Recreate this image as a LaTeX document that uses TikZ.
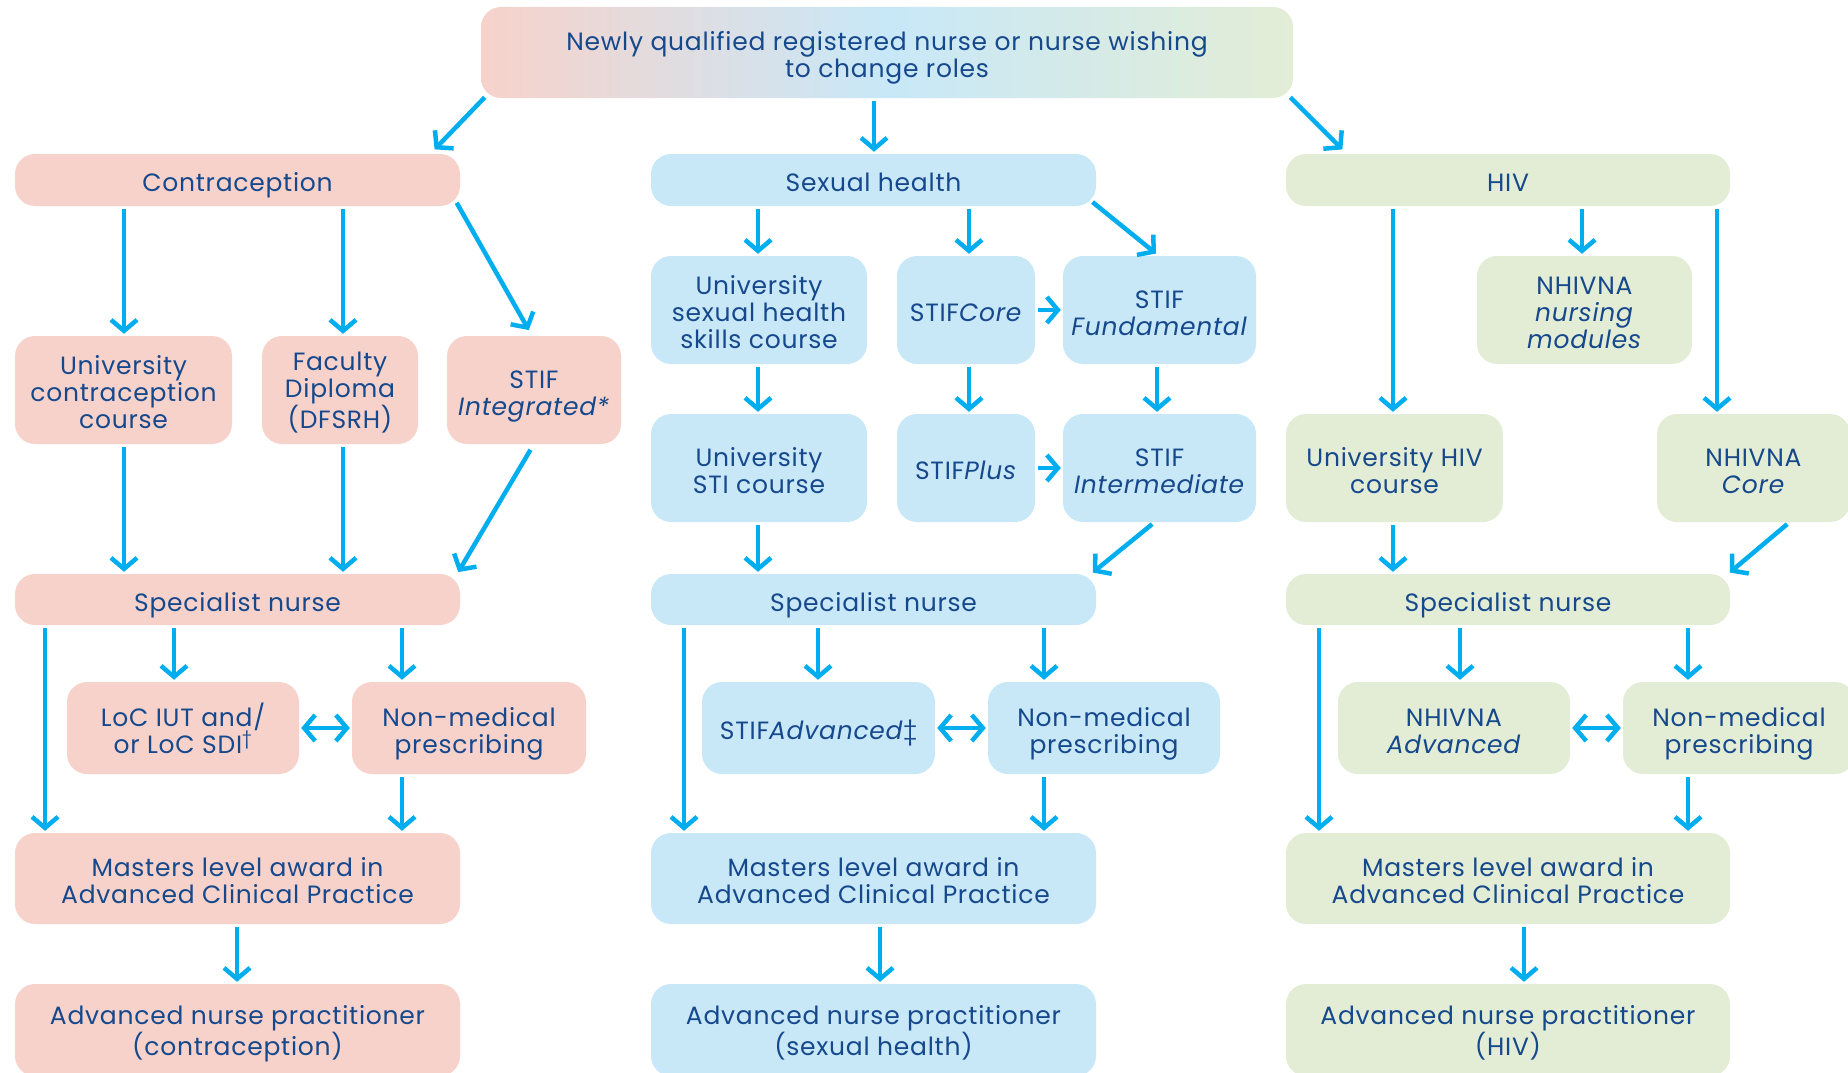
\documentclass[tikz,border=0pt]{standalone}
\usepackage{fontspec}
\setmainfont{Poppins}[LetterSpace=3]
\usetikzlibrary{arrows.meta}

\definecolor{navy}{RGB}{22,72,140}
\definecolor{arrowblue}{RGB}{0,174,239}
\definecolor{conpink}{RGB}{247,210,203}
\definecolor{shblue}{RGB}{200,232,248}
\definecolor{hivgreen}{RGB}{227,237,214}

\tikzset{
  box/.style={rounded corners=20pt, text=navy, align=center, inner sep=0pt,
    font=\fontsize{25}{27}\selectfont, text height=32pt, text depth=8.5pt},
  two lines/.style={text height=59pt},
  three lines/.style={text height=86pt},
  con/.style={box, fill=conpink},
  sh/.style={box, fill=shblue},
  hiv/.style={box, fill=hivgreen},
  arr/.style={draw=arrowblue, line width=4.5pt, -{Straight Barb[length=11pt, width=26pt]},
    shorten <=3pt, shorten >=2pt},
  biarr/.style={draw=arrowblue, line width=4.5pt,
    {Straight Barb[length=11pt, width=26pt]}-{Straight Barb[length=11pt, width=26pt]},
    shorten <=2pt, shorten >=2pt},
}

\begin{document}
\begin{tikzpicture}[x=1pt, y=-1pt]

	\useasboundingbox (0,0) rectangle (1848,1073);
	\clip (0,0) rectangle (1848,1073);

	% Starting point
	\node[box, two lines, left color=conpink, right color=hivgreen, middle color=shblue,
		minimum width=812pt, minimum height=91pt] (top) at (887,52.5)
		{Newly qualified registered nurse or nurse wishing\\to change roles};

	% Contraception column
	\node[con, minimum width=445pt, minimum height=52pt] (con) at (237.5,180) {Contraception};
	\node[con, three lines, minimum width=217pt, minimum height=108pt] (ucc) at (123.5,390) {University\\contraception\\course};
	\node[con, three lines, minimum width=156pt, minimum height=108pt] (fd) at (340,390) {Faculty\\Diploma\\(DFSRH)};
	\node[con, two lines, minimum width=174pt, minimum height=108pt] (stifi) at (534,390) {STIF\\\textit{Integrated*}};
	\node[con, minimum width=445pt, minimum height=51pt] (snc) at (237.5,599.5) {Specialist nurse};
	\node[con, two lines, minimum width=232pt, minimum height=92pt] (loc) at (183,728) {LoC IUT and/\\or LoC SDI\textsuperscript{†}};
	\node[con, two lines, minimum width=234pt, minimum height=92pt] (nmpc) at (469,728) {Non-medical\\prescribing};
	\node[con, two lines, minimum width=445pt, minimum height=91pt] (mc) at (237.5,878.5) {Masters level award in\\Advanced Clinical Practice};
	\node[con, two lines, minimum width=445pt, minimum height=92pt] (anpc) at (237.5,1030) {Advanced nurse practitioner\\(contraception)};

	% Sexual health column
	\node[sh, minimum width=445pt, minimum height=52pt] (sh) at (873.5,180) {Sexual health};
	\node[sh, three lines, minimum width=216pt, minimum height=108pt] (ush) at (759,310) {University\\sexual health\\skills course};
	\node[sh, minimum width=138pt, minimum height=108pt] (core) at (966,310) {STIF\textit{Core}};
	\node[sh, two lines, minimum width=193pt, minimum height=108pt] (fund) at (1159.5,310) {STIF\\\textit{Fundamental}};
	\node[sh, two lines, minimum width=216pt, minimum height=108pt] (usti) at (759,468) {University\\STI course};
	\node[sh, minimum width=138pt, minimum height=108pt] (plus) at (966,468) {STIF\textit{Plus}};
	\node[sh, two lines, minimum width=193pt, minimum height=108pt] (inter) at (1159.5,468) {STIF\\\textit{Intermediate}};
	\node[sh, minimum width=445pt, minimum height=51pt] (sns) at (873.5,599.5) {Specialist nurse};
	\node[sh, minimum width=233pt, minimum height=92pt] (adv) at (818.5,728) {STIF\textit{Advanced}‡};
	\node[sh, two lines, minimum width=232pt, minimum height=92pt] (nmps) at (1104,728) {Non-medical\\prescribing};
	\node[sh, two lines, minimum width=445pt, minimum height=91pt] (ms) at (873.5,878.5) {Masters level award in\\Advanced Clinical Practice};
	\node[sh, two lines, minimum width=445pt, minimum height=92pt] (anps) at (873.5,1030) {Advanced nurse practitioner\\(sexual health)};

	% HIV column
	\node[hiv, minimum width=444pt, minimum height=52pt] (hiv) at (1508,180) {HIV};
	\node[hiv, three lines, minimum width=215pt, minimum height=108pt] (nnm) at (1584.5,310) {NHIVNA\\\textit{nursing}\\\textit{modules}};
	\node[hiv, two lines, minimum width=217pt, minimum height=108pt] (uhiv) at (1394.5,468) {University HIV\\course};
	\node[hiv, two lines, minimum width=193pt, minimum height=108pt] (ncore) at (1753.5,468) {NHIVNA\\\textit{Core}};
	\node[hiv, minimum width=444pt, minimum height=51pt] (snh) at (1508,599.5) {Specialist nurse};
	\node[hiv, two lines, minimum width=232pt, minimum height=92pt] (nadv) at (1454,728) {NHIVNA\\\textit{Advanced}};
	\node[hiv, two lines, minimum width=232pt, minimum height=92pt] (nmph) at (1739,728) {Non-medical\\prescribing};
	\node[hiv, two lines, minimum width=444pt, minimum height=91pt] (mh) at (1508,878.5) {Masters level award in\\Advanced Clinical Practice};
	\node[hiv, two lines, minimum width=444pt, minimum height=92pt] (anph) at (1508,1030) {Advanced nurse practitioner\\(HIV)};

	% Straight down arrows, at the x where each one runs
	\foreach \from/\to/\x in {
			con/ucc/124, con/fd/343, ucc/snc/124, fd/snc/343,
			snc/loc/174, snc/nmpc/402, snc/mc/45, nmpc/mc/402, mc/anpc/237,
			top/sh/874, sh/ush/758, sh/core/969, ush/usti/758, core/plus/969,
			fund/inter/1157, usti/sns/758, sns/adv/818, sns/nmps/1044,
			sns/ms/684, nmps/ms/1044, ms/anps/880,
			hiv/uhiv/1393, hiv/nnm/1582, hiv/ncore/1717, uhiv/snh/1393,
			snh/nadv/1460, snh/nmph/1688, snh/mh/1319, nmph/mh/1688, mh/anph/1524
		} {
			\draw[arr] (\from.south -| \x,0) -- (\to.north -| \x,0);
		}

	% Sideways arrows
	\draw[arr] (core.east) -- (fund.west);
	\draw[arr] (plus.east) -- (inter.west);
	\foreach \a/\b in {loc/nmpc, adv/nmps, nadv/nmph}
		\draw[biarr] (\a.east) -- (\b.west);

	% Slanted arrows
	\draw[arr] ([xshift=6pt,yshift=3pt]top.south west) -- ([xshift=-27pt,yshift=3pt]con.north east);
	\draw[arr] ([xshift=-5pt,yshift=3pt]top.south east) -- ([xshift=58pt,yshift=3pt]hiv.north west);
	\draw[arr] ([xshift=-5pt,yshift=6pt]con.south east) -- ([xshift=83pt,yshift=4pt]stifi.north west);
	\draw[arr] ([xshift=-2pt,yshift=-3pt]stifi.south) -- ([xshift=-3pt]snc.north east);
	\draw[arr] ([xshift=-6pt,yshift=6pt]sh.south east) -- ([xshift=-2pt,yshift=1pt]fund.north);
	\draw[arr] ([xshift=-5pt]inter.south) -- ([xshift=-5pt]sns.north east);
	\draw[arr] ([xshift=36pt]ncore.south) -- ([xshift=-2pt]snh.north east);

\end{tikzpicture}
\end{document}
